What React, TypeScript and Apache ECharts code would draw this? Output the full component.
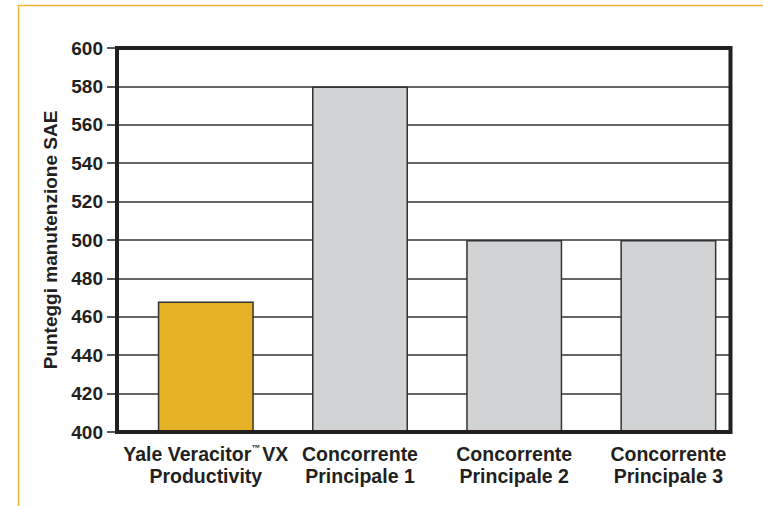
import React, { useEffect, useRef } from "react";
import * as echarts from "echarts";

const categories = [
  "Yale Veracitor™ VX\nProductivity",
  "Concorrente\nPrincipale 1",
  "Concorrente\nPrincipale 2",
  "Concorrente\nPrincipale 3",
];
const values = [468, 580, 500, 500];
const barColors = ["#E6B225", "#D1D3D4", "#D1D3D4", "#D1D3D4"];
const yMin = 400;
const yMax = 600;
const yStep = 20;
const yTitle = "Punteggi manutenzione SAE";

const INK = "#231f20";

export default function App() {
  const ref = useRef<HTMLDivElement>(null);
  useEffect(() => {
    if (!ref.current) return;
    const chart = echarts.init(ref.current, undefined, { renderer: "svg" });
    const option = {
      animation: false,
      backgroundColor: "#ffffff",
      textStyle: { fontFamily: "'Liberation Sans', Arial, sans-serif" },
      graphic: [
        {
          type: "line",
          shape: { x1: 18, y1: 5.5, x2: 763, y2: 5.5 },
          style: { stroke: "#F2B530", lineWidth: 1.5 },
        },
        {
          type: "line",
          shape: { x1: 18.5, y1: 5, x2: 18.5, y2: 506 },
          style: { stroke: "#F2B530", lineWidth: 1.5 },
        },
      ],
      grid: [
        {
          left: 117,
          right: 32.5,
          top: 48,
          bottom: 74,
          show: true,
          z: 10,
          borderWidth: 4,
          borderColor: INK,
          backgroundColor: "transparent",
        },
        { left: 128.7, right: 17.5, top: 48, bottom: 74 },
      ],
      xAxis: [
        {
          gridIndex: 0,
          type: "category",
          data: categories,
          axisLine: { show: false },
          axisTick: { show: false },
          axisLabel: { show: false },
          splitLine: { show: false },
        },
        {
          gridIndex: 1,
          type: "category",
          data: categories,
          axisLine: { show: false },
          axisTick: { show: false },
          splitLine: { show: false },
          axisLabel: {
            margin: 11,
            fontSize: 19.5,
            fontWeight: "bold",
            color: INK,
            lineHeight: 22,
            interval: 0,
            formatter: (v: string) => v.replace("™ ", "{tm|™}"),
            rich: {
              tm: { fontSize: 9, fontWeight: "bold", color: INK, verticalAlign: "top", lineHeight: 22, padding: [0, 2, 0, 0] },
            },
          },
        },
      ],
      yAxis: [
        {
          gridIndex: 0,
          type: "value",
          min: yMin,
          max: yMax,
          interval: yStep,
          name: yTitle,
          nameLocation: "middle",
          nameGap: 52,
          nameTextStyle: { fontSize: 19, fontWeight: "bold", color: INK },
          axisLine: { show: false },
          axisTick: { show: true, length: 10, lineStyle: { color: INK, width: 1.5 } },
          axisLabel: { margin: 14, fontSize: 19, fontWeight: "bold", color: INK },
          splitLine: { lineStyle: { color: "#333333", width: 1.5 } },
        },
        { gridIndex: 1, type: "value", min: yMin, max: yMax, interval: yStep, show: false },
      ],
      series: [
        {
          type: "bar",
          xAxisIndex: 1,
          yAxisIndex: 1,
          barWidth: 96,
          itemStyle: { borderColor: "#333333", borderWidth: 1.5 },
          data: values.map((v, i) => ({ value: v, itemStyle: { color: barColors[i] } })),
        },
      ],
    };
    chart.setOption(option);
    return () => chart.dispose();
  }, []);
  return (
    <div
      ref={ref}
      style={{ position: "absolute", left: 0, top: 0, width: 763, height: 506 }}
    />
  );
}
